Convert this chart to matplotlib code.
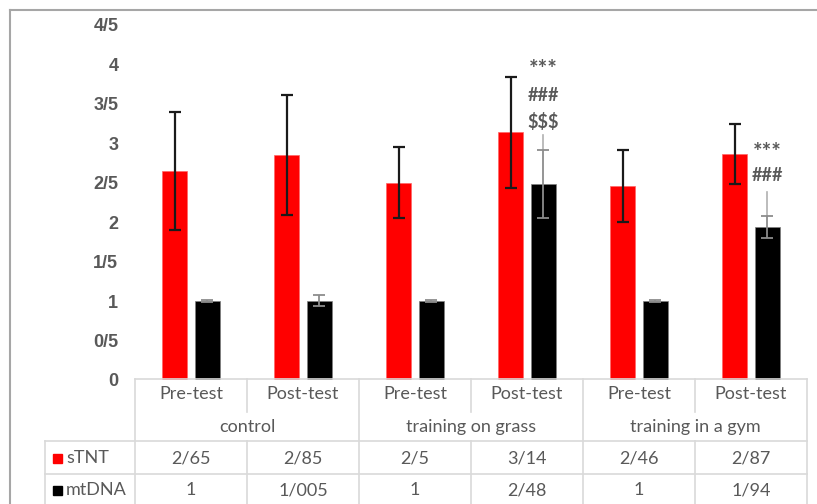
import numpy as np
import matplotlib.pyplot as plt
import matplotlib.transforms as mtransforms
from matplotlib.lines import Line2D
from matplotlib.patches import Rectangle

W, H = 817, 504

phases = ['Pre-test', 'Post-test', 'Pre-test', 'Post-test', 'Pre-test', 'Post-test']
groups = ['control', 'training on grass', 'training in a gym']
stnt = [2.65, 2.85, 2.5, 3.14, 2.46, 2.87]
stnt_err = [0.75, 0.76, 0.45, 0.70, 0.46, 0.38]
mtdna = [1, 1.005, 1, 2.48, 1, 1.94]
mtdna_err = [0.01, 0.07, 0.01, 0.43, 0.01, 0.14]
stnt_txt = ['2/65', '2/85', '2/5', '3/14', '2/46', '2/87']
mtdna_txt = ['1', '1/005', '1', '2/48', '1', '1/94']
yticks = [0, 0.5, 1, 1.5, 2, 2.5, 3, 3.5, 4, 4.5]
ytick_txt = ['0', '0/5', '1', '1/5', '2', '2/5', '3', '3/5', '4', '4/5']

GRAY = '#595959'
LINE = '#d9d9d9'
TFONT = 'Lato'
TSIZE = 13

def fy(py):
    return 1 - py / H

fig = plt.figure(figsize=(W / 100, H / 100), dpi=100)
ax = fig.add_axes([135 / W, 1 - 380 / H, 672 / W, 355 / H])

x = np.arange(len(phases))
bw, off = 0.22, 0.145
ax.bar(x - off, stnt, bw, color='#ff0000', edgecolor='#ff6666', lw=0.5, zorder=2)
ax.bar(x + off, mtdna, bw, color='#000000', edgecolor='#808080', lw=0.5, zorder=2)
ax.errorbar(x - off, stnt, yerr=stnt_err, fmt='none', ecolor='#1a1a1a',
            elinewidth=1.6, capsize=4.5, capthick=1.6, zorder=3)
ax.errorbar(x + off, mtdna, yerr=mtdna_err, fmt='none', ecolor='#8c8c8c',
            elinewidth=1.3, capsize=4.5, capthick=1.3, zorder=3)

# leader lines above the black error bars
ax.plot([3 + off, 3 + off], [mtdna[3] + mtdna_err[3], 3.1], color='#b0b0b0', lw=1.2)
ax.plot([5 + off, 5 + off], [mtdna[5] + mtdna_err[5], 2.38], color='#b0b0b0', lw=1.2)

# significance marks
for s, yy in [('***', 3.93), ('###', 3.61), ('$$$', 3.27)]:
    ax.text(3 + off, yy, s, ha='center', va='center', color=GRAY,
            fontsize=16 if s == '***' else 13, fontweight='bold', family=TFONT)
for s, yy in [('***', 2.89), ('###', 2.59)]:
    ax.text(5 + off, yy, s, ha='center', va='center', color=GRAY,
            fontsize=16 if s == '***' else 13, fontweight='bold', family=TFONT)

ax.set_xlim(-0.5, 5.5)
ax.set_ylim(0, 4.5)
ax.set_xticks([])
ax.set_yticks(yticks)
ax.set_yticklabels(ytick_txt, fontsize=13, fontweight='bold', color=GRAY,
                   family='Liberation Sans')
ax.tick_params(axis='y', length=0, pad=12)
for sp in ax.spines.values():
    sp.set_visible(False)

# data table under the plot
tr = mtransforms.blended_transform_factory(ax.transData, fig.transFigure)
def hline(x0, x1, py):
    ax.add_line(Line2D([x0, x1], [fy(py), fy(py)], color=LINE, lw=1.2,
                       transform=tr, clip_on=False))
def vline(xx, py0, py1):
    ax.add_line(Line2D([xx, xx], [fy(py0), fy(py1)], color=LINE, lw=1.2,
                       transform=tr, clip_on=False))

xl = (45 - 135) / 112 - 0.5
hline(-0.5, 5.5, 379)
hline(xl, 5.5, 441)
hline(xl, 5.5, 474)
vline(xl, 441, 510)
for b in [-0.5, 1.5, 3.5, 5.5]:
    vline(b, 379, 510)
for b in [0.5, 2.5, 4.5]:
    vline(b, 379, 412)
    vline(b, 441, 510)

for i, p in enumerate(phases):
    ax.text(i, fy(394), p, transform=tr, ha='center', va='center',
            color=GRAY, fontsize=TSIZE, family=TFONT)
    ax.text(i, fy(458), stnt_txt[i], transform=tr, ha='center', va='center',
            color=GRAY, fontsize=TSIZE, family=TFONT)
    ax.text(i, fy(490), mtdna_txt[i], transform=tr, ha='center', va='center',
            color=GRAY, fontsize=TSIZE, family=TFONT)
for j, g in enumerate(groups):
    ax.text(2 * j + 0.5, fy(427), g, transform=tr, ha='center', va='center',
            color=GRAY, fontsize=TSIZE, family=TFONT)

for py, lab, col in [(458, 'sTNT', '#ff0000'), (490, 'mtDNA', '#000000')]:
    fig.add_artist(Rectangle((53 / W, fy(py + 4.5)), 9 / W, 9 / H,
                             color=col, transform=fig.transFigure))
    fig.text(66 / W, fy(py), lab, ha='left', va='center', color=GRAY,
             fontsize=TSIZE, family=TFONT)

# outer chart border
fig.add_artist(Line2D([10 / W, 1], [fy(10), fy(10)], color='#a6a6a6', lw=1.5))
fig.add_artist(Line2D([10 / W, 10 / W], [fy(10), 0], color='#a6a6a6', lw=1.5))

fig.savefig('out.png', dpi=100)
